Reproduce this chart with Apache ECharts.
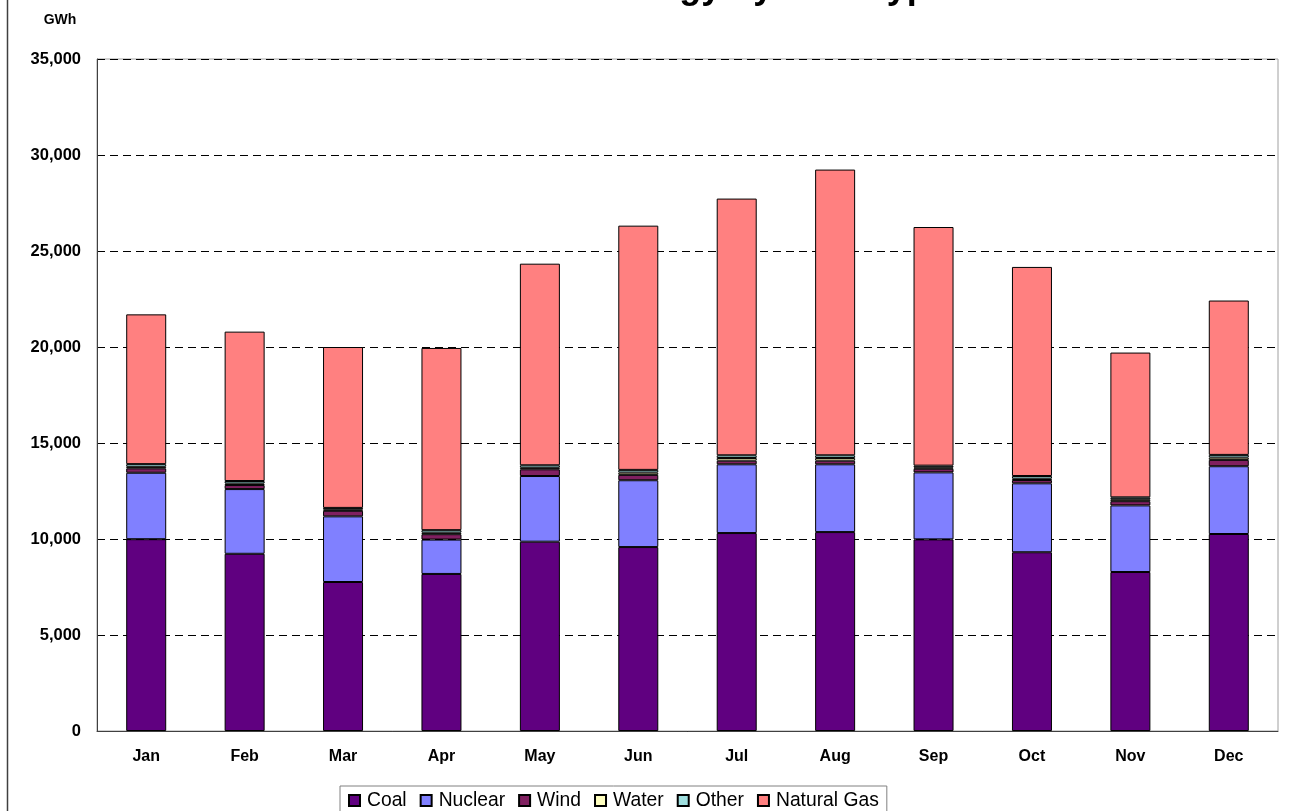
<!DOCTYPE html>
<html>
<head>
<meta charset="utf-8">
<script src="https://cdn.jsdelivr.net/npm/echarts@6/dist/echarts.min.js"></script>
<style>
  html, body { margin: 0; padding: 0; background: #fff; }
  #chart { width: 1310px; height: 811px; }
</style>
</head>
<body>
<div id="chart"></div>
<script>
const months = ['Jan','Feb','Mar','Apr','May','Jun','Jul','Aug','Sep','Oct','Nov','Dec'];
const coal       = [9990, 9230, 7760, 8180, 9860, 9580, 10310, 10360, 9980, 9310, 8280, 10260];
const nuclear    = [3460, 3370, 3420, 1790, 3420, 3480, 3580, 3530, 3490, 3590, 3470, 3530];
const wind       = [230, 210, 290, 280, 350, 280, 190, 190, 190, 170, 220, 330];
const water      = [80, 80, 60, 80, 80, 120, 140, 140, 70, 70, 100, 120];
const other      = [140, 130, 90, 130, 130, 140, 140, 140, 90, 140, 100, 140];
const naturalGas = [7800, 7780, 8380, 9490, 10500, 12720, 13370, 14880, 12430, 10890, 7540, 8040];
const yTicks = [0, 5000, 10000, 15000, 20000, 25000, 30000, 35000];

const seriesDefs = [
  ['Coal', coal, '#600080'],
  ['Nuclear', nuclear, '#8080FF'],
  ['Wind', wind, '#802060'],
  ['Water', water, '#FFFFC0'],
  ['Other', other, '#A0E0E0'],
  ['Natural Gas', naturalGas, '#FF8080']
];

const chart = echarts.init(document.getElementById('chart'), null, { renderer: 'canvas' });
const font = 'Liberation Sans, Arial, sans-serif';

chart.setOption({
  animation: false,
  backgroundColor: '#fff',
  textStyle: { fontFamily: font },
  grid: {
    left: 97, right: 32, top: 59, bottom: 80,
    show: true, borderColor: '#a0a0a0', borderWidth: 1, backgroundColor: '#fff'
  },
  graphic: [
    { type: 'line', shape: { x1: 7.5, y1: 0, x2: 7.5, y2: 811 },
      style: { stroke: '#404040', lineWidth: 1.5 } },
    { type: 'text', x: 706, y: -12,
      style: { text: 'ERCOT Energy by Fuel Type', textAlign: 'center', textVerticalAlign: 'middle',
               font: 'bold 36px Liberation Sans, Arial, sans-serif', fill: '#000' } },
    { type: 'text', x: 60, y: 20,
      style: { text: 'GWh', textAlign: 'center', textVerticalAlign: 'middle',
               font: 'bold 14px Liberation Sans, Arial, sans-serif', fill: '#000' } }
  ],
  legend: {
    data: seriesDefs.map(d => d[0]),
    left: 340, top: 786,
    orient: 'horizontal',
    padding: [5, 8, 6, 8],
    borderColor: '#808080', borderWidth: 1,
    itemWidth: 11, itemHeight: 11, itemGap: 13,
    icon: 'rect',
    textStyle: { fontFamily: font, fontSize: 19.3, color: '#000', padding: [0, 0, 0, 2] }
  },
  xAxis: {
    type: 'category',
    data: months,
    axisLine: { lineStyle: { color: '#404040', width: 1 } },
    axisTick: { show: false },
    axisLabel: { fontFamily: font, fontSize: 16, fontWeight: 'bold', color: '#000', margin: 18 }
  },
  yAxis: {
    type: 'value',
    min: yTicks[0], max: yTicks[yTicks.length - 1], interval: 5000,
    axisLine: { show: true, lineStyle: { color: '#404040', width: 1 } },
    axisTick: { show: false },
    axisLabel: {
      fontFamily: font, fontSize: 16.5, fontWeight: 'bold', color: '#000', margin: 16,
      formatter: v => v.toLocaleString('en-US')
    },
    splitLine: { show: true, lineStyle: { color: '#000', type: [8, 5], width: 1 } }
  },
  series: seriesDefs.map(([name, data, color]) => ({
    name, type: 'bar', stack: 'total', data,
    barWidth: 40,
    itemStyle: { color, borderColor: '#000', borderWidth: 1 }
  }))
});
</script>
</body>
</html>
